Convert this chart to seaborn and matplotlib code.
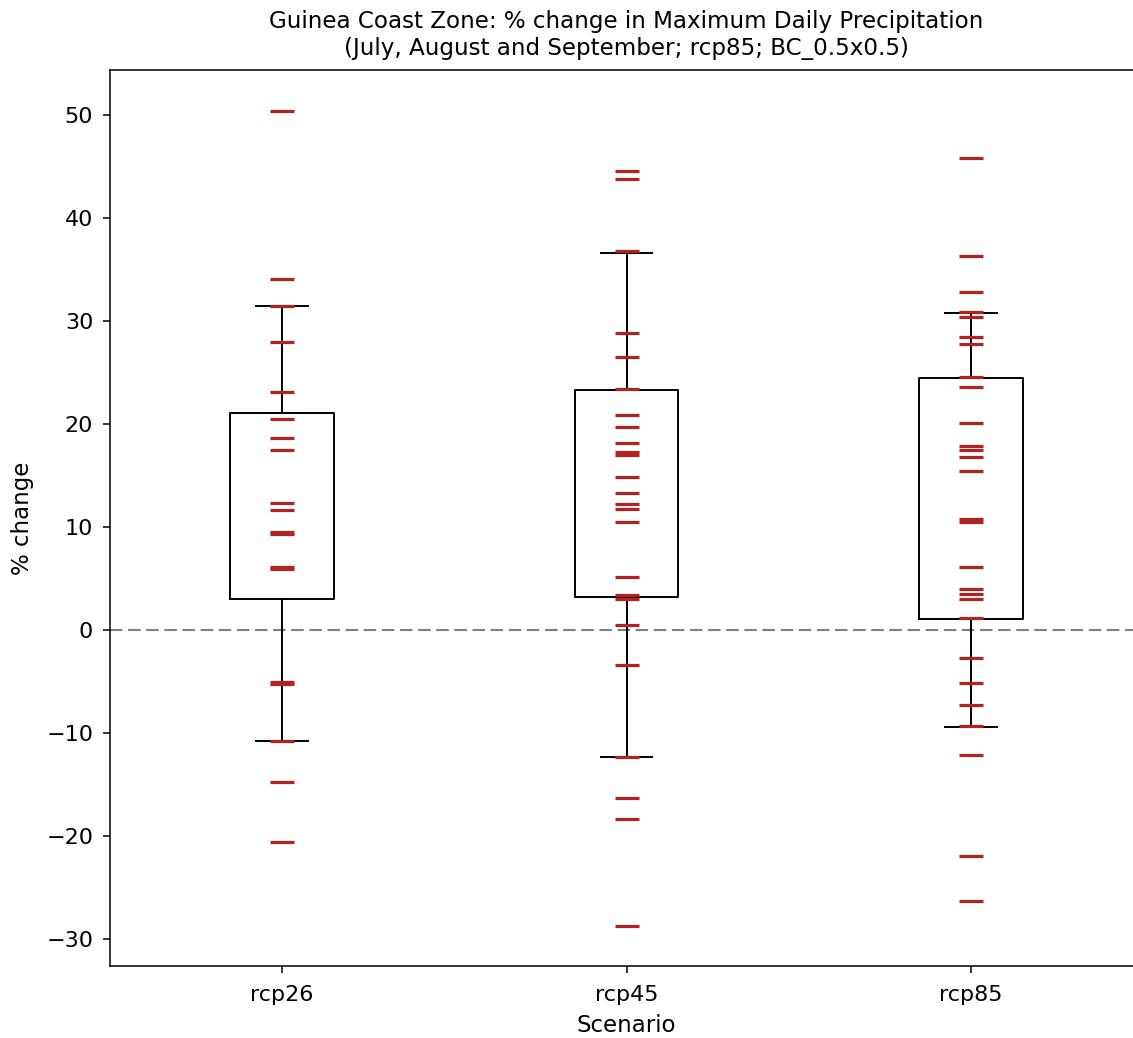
import numpy as np
import pandas as pd
import seaborn as sns
import matplotlib
matplotlib.use('Agg')
import matplotlib.pyplot as plt

# dash markers: individual model values (% change)
scenarios = ['rcp26', 'rcp45', 'rcp85']
rcp26 = [50.4, 34.1, 31.5, 28.0, 23.1, 20.5, 18.7, 17.5, 12.4, 11.7, 9.5, 9.3,
         6.1, 5.9, -5.0, -5.2, -10.8, -14.7, -20.6]
rcp45 = [44.6, 43.8, 36.8, 28.9, 26.5, 23.4, 20.9, 19.7, 18.2, 17.3, 17.0, 14.9,
         13.3, 12.3, 11.8, 10.5, 5.2, 3.4, 3.0, 0.5, -3.4, -12.3, -16.3, -18.3, -28.7]
rcp85 = [45.9, 36.3, 32.8, 30.9, 30.4, 28.5, 27.8, 24.6, 23.6, 20.1, 17.9, 17.5,
         16.8, 15.5, 10.8, 10.5, 6.1, 4.0, 3.5, 3.0, 1.2, -2.7, -5.1, -7.3, -9.3,
         -12.1, -21.9, -26.3]

# box summary per scenario
q1 = [3.0, 3.2, 1.1]
q3 = [21.1, 23.3, 24.5]
whis_lo = [-10.8, -12.3, -9.4]
whis_hi = [31.5, 36.6, 30.8]

df = pd.DataFrame({
    'Scenario': ['rcp26'] * len(rcp26) + ['rcp45'] * len(rcp45) + ['rcp85'] * len(rcp85),
    'change': rcp26 + rcp45 + rcp85,
})

plt.rcParams['font.family'] = 'DejaVu Sans'
fig = plt.figure(figsize=(11.33, 10.38), dpi=100)
ax = fig.add_axes([0.097, 0.0694, 0.912, 0.8632])

stats = []
for i, s in enumerate(scenarios):
    stats.append(dict(label=s, q1=q1[i], q3=q3[i], med=q1[i],
                      whislo=whis_lo[i], whishi=whis_hi[i], fliers=[]))

ax.bxp(stats, positions=[0, 1, 2], widths=0.3, showfliers=False,
       boxprops=dict(color='black', linewidth=1.4),
       whiskerprops=dict(color='black', linewidth=1.4),
       capprops=dict(color='black', linewidth=1.4),
       medianprops=dict(linewidth=0))

sns.stripplot(data=df, x='Scenario', y='change', order=scenarios, jitter=False,
              marker='_', s=17, linewidth=2.3, color='#b22222',
              edgecolor='#b22222', ax=ax, zorder=5)

ax.axhline(0, color='gray', linewidth=1.5, linestyle=(0, (6, 2.7)), zorder=1)

ax.set_xlim(-0.5, 2.5)
ax.set_ylim(-32.6, 54.4)
ax.set_yticks(np.arange(-30, 51, 10))
ax.set_xticks([0, 1, 2])
ax.set_xticklabels(scenarios)
ax.tick_params(labelsize=16, length=5, width=1.1)
ax.tick_params(axis='y', pad=7)
ax.tick_params(axis='x', pad=9)
for sp in ax.spines.values():
    sp.set_linewidth(1.1)
ax.set_xlabel('Scenario', fontsize=16.5, labelpad=6)
ax.set_ylabel('% change', fontsize=16.5, labelpad=9)
ax.set_title('Guinea Coast Zone: % change in Maximum Daily Precipitation\n'
             '(July, August and September; rcp85; BC_0.5x0.5)', fontsize=16.6, pad=11)

fig.savefig('out.png', dpi=100)
